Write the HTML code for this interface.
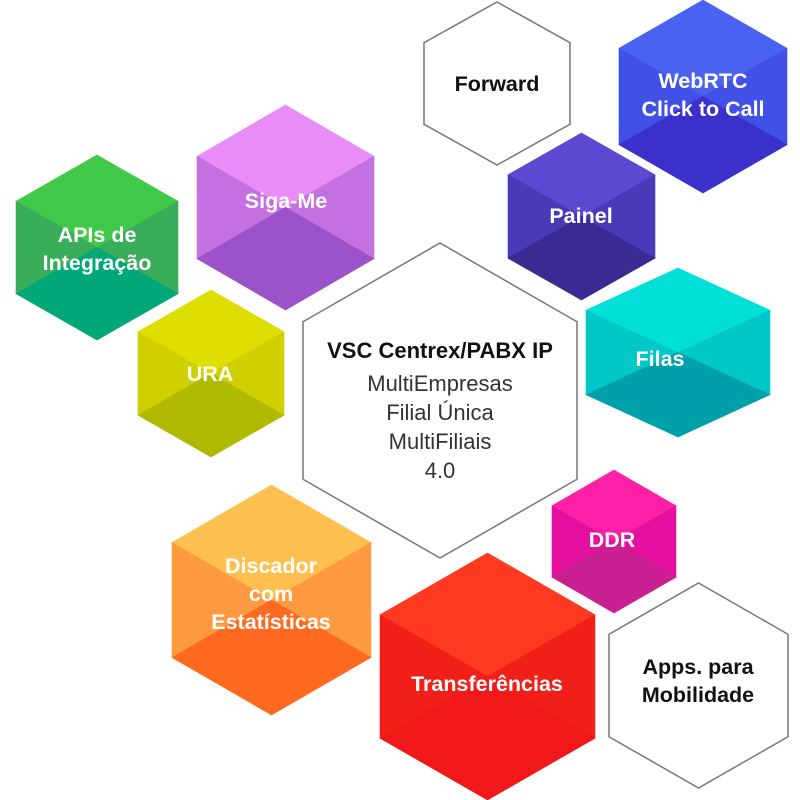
<!DOCTYPE html>
<html><head><meta charset="utf-8"><style>
html,body{margin:0;padding:0;background:#fff;width:800px;height:800px;overflow:hidden}
svg{display:block}
text{font-family:"Liberation Sans",sans-serif;text-anchor:middle}
.w{fill:#fff;font-weight:bold;font-size:21.5px}
.b{fill:#111;font-weight:bold;font-size:21.5px}
.l{fill:#333;font-size:22px}
</style></head><body>
<svg id="s" width="800" height="800" viewBox="0 0 800 800">
<g id="hx"></g>
<text class="b" x="497" y="91">Forward</text>
<text class="w" x="703" y="88">WebRTC</text>
<text class="w" x="703" y="116">Click to Call</text>
<text class="w" x="286" y="208">Siga-Me</text>
<text class="w" x="97" y="242">APIs de</text>
<text class="w" x="97" y="270">Integração</text>
<text class="w" x="581" y="223">Painel</text>
<text class="w" x="660" y="366">Filas</text>
<text class="w" x="210" y="381">URA</text>
<text class="b" x="440" y="358" style="font-size:22px">VSC Centrex/PABX IP</text>
<text class="l" x="440" y="391">MultiEmpresas</text>
<text class="l" x="440" y="420">Filial Única</text>
<text class="l" x="440" y="449">MultiFiliais</text>
<text class="l" x="440" y="478">4.0</text>
<text class="w" x="612" y="547">DDR</text>
<text class="w" x="271" y="573">Discador</text>
<text class="w" x="271" y="601">com</text>
<text class="w" x="271" y="629">Estatísticas</text>
<text class="w" x="487" y="691">Transferências</text>
<text class="b" x="698" y="674">Apps. para</text>
<text class="b" x="698" y="702">Mobilidade</text>
</svg>
<script>
var H=[
[424,570,2,165,null],
[619,787,0,193,['#4a62f2','#4150e6','#3a30cc']],
[197,374,105,310,['#e88cf8','#c470e0','#9c52c8']],
[16,178,155,340,['#40c848','#3aad5a','#00a878']],
[508,655,133,300,['#5a4ad2','#4a3ab8','#3a2a92']],
[586,770,268,437,['#00e0d8','#00c8c8','#00a0aa']],
[138,284,290,457,['#dede00','#d0d000','#b0ba00']],
[303,577,243,558,null],
[552,676,470,613,['#ff20a8','#e410a0','#c82090']],
[172,371,485,715,['#ffc050','#ff9a40','#ff6a20']],
[380,595,553,800,['#ff3a20','#f02018','#f01818']],
[609,788,583,788,null]
];
var g=document.getElementById('hx'),ns='http://www.w3.org/2000/svg';
function poly(pts,fill,stroke){var p=document.createElementNS(ns,'polygon');p.setAttribute('points',pts.map(function(a){return a.join(',')}).join(' '));p.setAttribute('fill',fill);if(stroke){p.setAttribute('stroke',stroke);p.setAttribute('stroke-width','1.5')}else{p.setAttribute('stroke',fill);p.setAttribute('stroke-width','0.6')}g.appendChild(p)}
H.forEach(function(h){var l=h[0],r=h[1],t=h[2],b=h[3],cx=(l+r)/2,hh=b-t,y1=t+hh/4,y2=b-hh/4,cy=(t+b)/2;
var T=[cx,t],UR=[r,y1],LR=[r,y2],B=[cx,b],LL=[l,y2],UL=[l,y1],C=[cx,cy];
if(!h[4]){poly([T,UR,LR,B,LL,UL],'#fff','#777');return;}
var c=h[4];
poly([T,UR,C,UL],c[0]);poly([UL,C,LL],c[1]);poly([UR,LR,C],c[1]);poly([C,LR,B,LL],c[2]);});
</script>
</body></html>
